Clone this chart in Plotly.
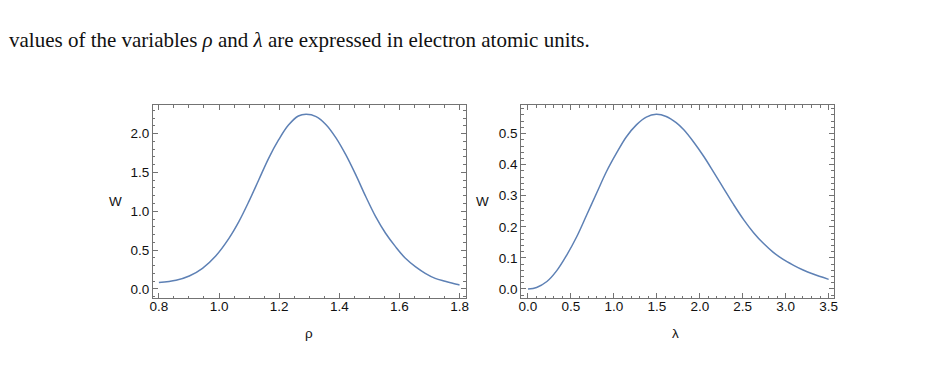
import plotly.graph_objects as go

# Left panel: W vs rho
rho = [0.80, 0.857, 0.901, 0.945, 0.989, 1.033, 1.066, 1.099, 1.132, 1.165, 1.198, 1.231,
       1.264, 1.290, 1.323, 1.356, 1.389, 1.422, 1.455, 1.488, 1.521, 1.554, 1.587, 1.620,
       1.653, 1.686, 1.719, 1.752, 1.790, 1.80]
w_rho = [0.082, 0.112, 0.167, 0.266, 0.425, 0.652, 0.867, 1.124, 1.403, 1.682, 1.918, 2.11,
         2.227, 2.249, 2.219, 2.115, 1.945, 1.725, 1.468, 1.19, 0.931, 0.717, 0.545, 0.395,
         0.288, 0.202, 0.137, 0.099, 0.060, 0.052]

# Right panel: W vs lambda
lam = [0.0, 0.10, 0.22, 0.335, 0.451, 0.567, 0.683, 0.798, 0.914, 1.030, 1.146, 1.262,
       1.377, 1.493, 1.609, 1.725, 1.814, 1.930, 2.045, 2.161, 2.277, 2.393, 2.508, 2.624,
       2.740, 2.856, 2.971, 3.087, 3.203, 3.319, 3.50]
w_lam = [0.0, 0.005, 0.024, 0.059, 0.109, 0.168, 0.238, 0.308, 0.378, 0.437, 0.49, 0.528,
         0.553, 0.562, 0.555, 0.535, 0.512, 0.472, 0.427, 0.376, 0.324, 0.272, 0.224, 0.182,
         0.147, 0.118, 0.095, 0.077, 0.061, 0.048, 0.031]

x1_ticks = [0.8, 1.0, 1.2, 1.4, 1.6, 1.8]
y1_ticks = [0.0, 0.5, 1.0, 1.5, 2.0]
x2_ticks = [0.0, 0.5, 1.0, 1.5, 2.0, 2.5, 3.0, 3.5]
y2_ticks = [0.0, 0.1, 0.2, 0.3, 0.4, 0.5]

W, H = 943, 388
LINE = "rgb(94,129,181)"
FRAME = "#737373"
TICKFONT = dict(family="Liberation Sans, Arial, sans-serif", size=13.5, color="#111111")

fig = go.Figure()
fig.add_trace(go.Scatter(x=rho, y=w_rho, mode="lines", line=dict(color=LINE, width=1.5, shape="spline", smoothing=1.0),
                         xaxis="x", yaxis="y", showlegend=False))
fig.add_trace(go.Scatter(x=lam, y=w_lam, mode="lines", line=dict(color=LINE, width=1.5, shape="spline", smoothing=1.0),
                         xaxis="x2", yaxis="y2", showlegend=False))

ydom = [1 - 298 / H, 1 - 105 / H]

def ax(domain, rng, ticks, fmt, minor_dtick, anchor, standoff):
    return dict(domain=domain, range=rng, tickmode="array", tickvals=ticks,
                ticktext=[fmt.format(t) for t in ticks], ticks="inside", ticklen=5, tickwidth=1,
                tickcolor=FRAME, showline=True, linecolor=FRAME, linewidth=1, mirror="ticks",
                showgrid=False, zeroline=False, tickfont=TICKFONT, anchor=anchor,
                ticklabelstandoff=standoff,
                minor=dict(ticks="inside", ticklen=2.5, tickcolor=FRAME, dtick=minor_dtick,
                           tick0=0, showgrid=False))

fig.update_layout(
    width=W, height=H, margin=dict(l=0, r=0, t=0, b=0),
    paper_bgcolor="white", plot_bgcolor="white",
    xaxis=ax([151 / W, 466 / W], [0.78, 1.82], x1_ticks, "{:.1f}", 0.05, "y", -4),
    yaxis=ax(ydom, [-0.116, 2.368], y1_ticks, "{:.1f}", 0.1, "x", 0),
    xaxis2=ax([522 / W, 837 / W], [-0.08, 3.56], x2_ticks, "{:.1f}", 0.1, "y2", -4),
    yaxis2=ax(ydom, [-0.029, 0.592], y2_ticks, "{:.1f}", 0.02, "x2", 0),
)

def px_ann(text, x, y, size, family, color="#111111", xanchor="center"):
    fig.add_annotation(text=text, x=x / W, y=1 - y / H, xref="paper", yref="paper",
                       showarrow=False, xanchor=xanchor, yanchor="middle",
                       font=dict(size=size, family=family, color=color))

SANS = "Liberation Sans, Arial, sans-serif"
px_ann("W", 113, 201, 13.5, SANS)
px_ann("W", 483, 201, 13.5, SANS)
px_ann("ρ", 308, 333, 13.5, SANS)
px_ann("λ", 678, 333, 13.5, SANS)

px_ann("values of the variables <i>ρ</i> and <i>λ</i> are expressed in electron atomic units.",
       4, 40, 21, "Liberation Serif, DejaVu Serif, serif", color="#111", xanchor="left")

fig.write_html("out.html")
